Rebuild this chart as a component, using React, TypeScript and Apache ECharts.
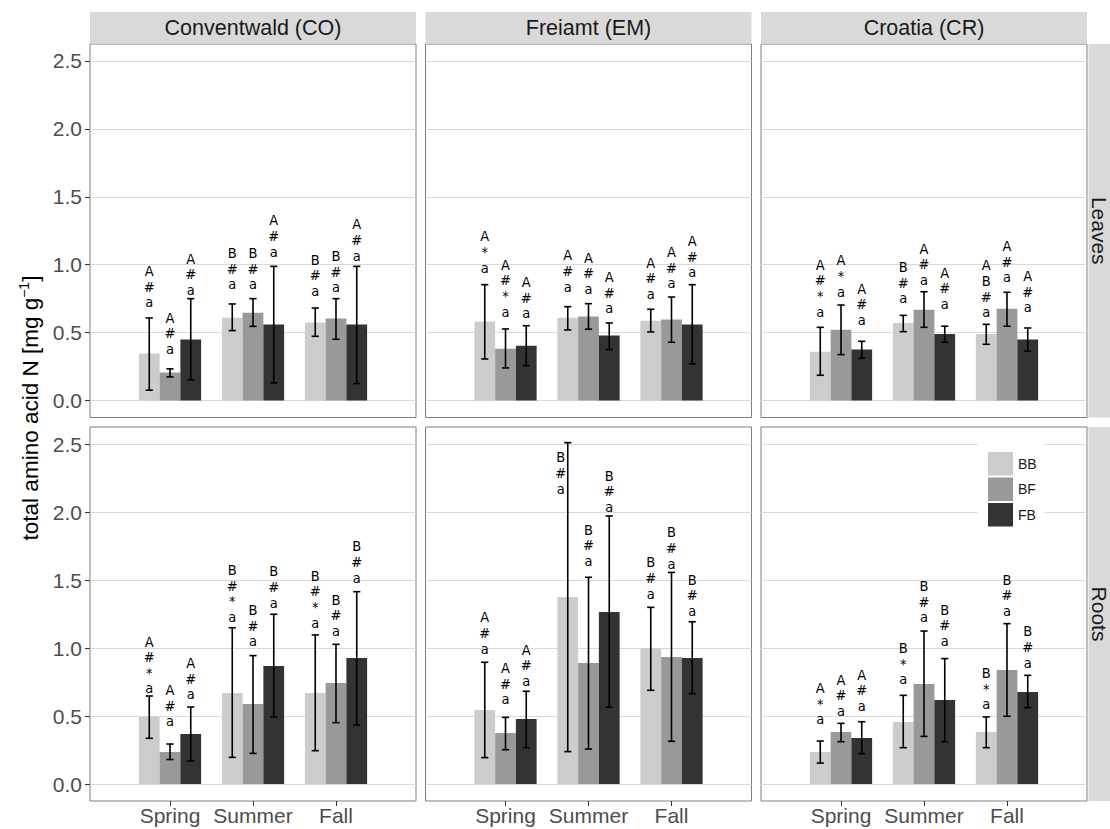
import React, { useEffect, useRef } from 'react';
import * as echarts from 'echarts';

const sites = ['Conventwald (CO)', 'Freiamt (EM)', 'Croatia (CR)'];
const organs = ['Leaves', 'Roots'];
const seasons = ['Spring', 'Summer', 'Fall'];
const treatments = ['BB', 'BF', 'FB'];
const treatmentColors = ['#cccccc', '#999999', '#333333'];
const yTicks = [0, 0.5, 1, 1.5, 2, 2.5];
const xTicks = [0, 1, 2];

// rows: Spring, Summer, Fall ; columns: BB, BF, FB
const leavesCO_mean = [[0.346, 0.206, 0.449], [0.61, 0.647, 0.559], [0.574, 0.603, 0.559]];
const leavesCO_lo = [[0.076, 0.174, 0.152], [0.515, 0.546, 0.13], [0.473, 0.451, 0.125]];
const leavesCO_hi = [[0.608, 0.233, 0.75], [0.711, 0.75, 0.988], [0.681, 0.75, 0.988]];
const leavesCO_labelY = [[0.689, 0.346, 0.779], [0.821, 0.821, 1.061], [0.772, 0.799, 1.032]];
const leavesCO_letters = [['A#a', 'A#a', 'A#a'], ['B#a', 'B#a', 'A#a'], ['B#a', 'B#a', 'A#a']];

const leavesEM_mean = [[0.581, 0.382, 0.404], [0.61, 0.618, 0.478], [0.588, 0.596, 0.559]];
const leavesEM_lo = [[0.306, 0.24, 0.257], [0.52, 0.525, 0.375], [0.505, 0.429, 0.27]];
const leavesEM_hi = [[0.853, 0.527, 0.551], [0.691, 0.713, 0.571], [0.672, 0.762, 0.853]];
const leavesEM_labelY = [[0.943, 0.62, 0.608], [0.804, 0.787, 0.645], [0.75, 0.829, 0.91]];
const leavesEM_letters = [['A*a', 'A#*a', 'A#a'], ['A#a', 'A#a', 'A#a'], ['A#a', 'A#a', 'A#a']];

const leavesCR_mean = [[0.36, 0.522, 0.375], [0.57, 0.669, 0.49], [0.49, 0.676, 0.449]];
const leavesCR_lo = [[0.186, 0.338, 0.311], [0.507, 0.539, 0.429], [0.414, 0.547, 0.363]];
const leavesCR_hi = [[0.539, 0.703, 0.436], [0.627, 0.801, 0.547], [0.561, 0.797, 0.534]];
const leavesCR_labelY = [[0.62, 0.767, 0.559], [0.718, 0.853, 0.676], [0.615, 0.873, 0.652]];
const leavesCR_letters = [['A#*a', 'A*a', 'A#a'], ['B#a', 'A#a', 'A#a'], ['AB#a', 'A#a', 'A#a']];

const rootsCO_mean = [[0.495, 0.235, 0.368], [0.669, 0.588, 0.868], [0.669, 0.743, 0.926]];
const rootsCO_lo = [[0.336, 0.18, 0.169], [0.196, 0.225, 0.493], [0.245, 0.451, 0.434]];
const rootsCO_hi = [[0.647, 0.294, 0.566], [1.149, 0.944, 1.248], [1.096, 1.027, 1.414]];
const rootsCO_labelY = [[0.667, 0.426, 0.623], [1.193, 1.015, 1.299], [1.151, 1.09, 1.483]];
const rootsCO_letters = [['A#*a', 'A#a', 'A#a'], ['B#*a', 'B#a', 'B#a'], ['B#*a', 'B#a', 'B#a']];

const rootsEM_mean = [[0.544, 0.375, 0.478], [1.375, 0.889, 1.265], [0.998, 0.934, 0.926]];
const rootsEM_lo = [[0.194, 0.252, 0.267], [0.238, 0.257, 0.564], [0.689, 0.314, 0.664]];
const rootsEM_hi = [[0.895, 0.49, 0.682], [2.51, 1.52, 1.971], [1.299, 1.556, 1.193]];
const rootsEM_labelY = [[0.961, 0.588, 0.723], [2.137, 1.605, 2.002], [1.365, 1.586, 1.238]];
const rootsEM_letters = [['A#a', 'A#a', 'A#a'], ['B#a', 'B#a', 'B#a'], ['B#a', 'B#a', 'B#a']];

const rootsCR_mean = [[0.235, 0.382, 0.338], [0.456, 0.735, 0.618], [0.382, 0.838, 0.676]];
const rootsCR_lo = [[0.154, 0.311, 0.223], [0.267, 0.35, 0.311], [0.267, 0.498, 0.561]];
const rootsCR_hi = [[0.316, 0.446, 0.458], [0.652, 1.125, 0.922], [0.493, 1.179, 0.799]];
const rootsCR_labelY = [[0.441, 0.502, 0.539], [0.735, 1.189, 1.017], [0.551, 1.238, 0.858]];
const rootsCR_letters = [['A*a', 'A#a', 'A#a'], ['B*a', 'B#a', 'B#a'], ['B*a', 'B#a', 'B#a']];

const panels = [
  { mean: leavesCO_mean, lo: leavesCO_lo, hi: leavesCO_hi, labelY: leavesCO_labelY, letters: leavesCO_letters },
  { mean: leavesEM_mean, lo: leavesEM_lo, hi: leavesEM_hi, labelY: leavesEM_labelY, letters: leavesEM_letters },
  { mean: leavesCR_mean, lo: leavesCR_lo, hi: leavesCR_hi, labelY: leavesCR_labelY, letters: leavesCR_letters },
  { mean: rootsCO_mean, lo: rootsCO_lo, hi: rootsCO_hi, labelY: rootsCO_labelY, letters: rootsCO_letters },
  { mean: rootsEM_mean, lo: rootsEM_lo, hi: rootsEM_hi, labelY: rootsEM_labelY, letters: rootsEM_letters },
  { mean: rootsCR_mean, lo: rootsCR_lo, hi: rootsCR_hi, labelY: rootsCR_labelY, letters: rootsCR_letters },
];

const SANS = "'Liberation Sans', Arial, Helvetica, sans-serif";
const LABEL_FONT = "'DejaVu Sans Condensed', 'Liberation Sans Narrow', 'DejaVu Sans', sans-serif";
const panelLeft = [90, 425.5, 761];
const panelWidth = 326;
const panelTop = [44, 427];
const panelHeight = [373.5, 374];
const X_MIN = -0.964;
const X_MAX = 2.964;
const Y_MIN = -0.125;
const Y_MAX = 2.625;

function buildOption() {
  const grid: any[] = [];
  const xAxis: any[] = [];
  const yAxis: any[] = [];
  const series: any[] = [];
  const graphic: any[] = [];

  panels.forEach((p, g) => {
    const row = Math.floor(g / 3);
    const col = g % 3;
    grid.push({
      left: panelLeft[col],
      top: panelTop[row],
      width: panelWidth,
      height: panelHeight[row],
      show: true,
      backgroundColor: '#ffffff',
      borderColor: '#7f7f7f',
      borderWidth: 1,
    });
    xAxis.push({
      type: 'value',
      gridIndex: g,
      position: 'bottom',
      min: X_MIN,
      max: X_MAX,
      axisLine: { show: false, onZero: false },
      splitLine: { show: false },
      axisTick: { show: row === 1, length: 5, customValues: xTicks, lineStyle: { color: '#333333', width: 1 } },
      axisLabel: {
        show: row === 1,
        customValues: xTicks,
        margin: 4,
        fontSize: 21,
        color: '#4d4d4d',
        fontFamily: SANS,
        formatter: (v: number) => seasons[Math.round(v)] ?? '',
      },
    });
    yAxis.push({
      type: 'value',
      gridIndex: g,
      position: 'left',
      min: Y_MIN,
      max: Y_MAX,
      axisLine: { show: false, onZero: false },
      axisTick: { show: col === 0, length: 5, customValues: yTicks, lineStyle: { color: '#333333', width: 1 } },
      axisLabel: {
        show: col === 0,
        customValues: yTicks,
        margin: 8,
        fontSize: 21,
        color: '#4d4d4d',
        fontFamily: SANS,
        formatter: (v: number) =>
          Math.abs(v * 2 - Math.round(v * 2)) < 1e-6 && v >= 0 && v <= 2.5 ? v.toFixed(1) : '',
      },
      splitLine: { show: true, lineStyle: { color: '#d9d9d9', width: 1 } },
    });

    treatments.forEach((t, j) => {
      series.push({
        type: 'bar',
        name: t,
        xAxisIndex: g,
        yAxisIndex: g,
        barWidth: '25%',
        barGap: '0%',
        silent: true,
        itemStyle: { color: treatmentColors[j] },
        data: seasons.map((_, s) => [s, p.mean[s][j]]),
      });
    });

    const items: any[] = [];
    seasons.forEach((_, s) => {
      treatments.forEach((__, j) => {
        items.push({ s, j, x: s + (j - 1) * 0.25 });
      });
    });

    series.push({
      type: 'custom',
      xAxisIndex: g,
      yAxisIndex: g,
      silent: true,
      z: 5,
      data: items.map((it) => [it.x, p.hi[it.s][it.j]]),
      renderItem: (params: any, api: any) => {
        const it = items[params.dataIndex];
        const hi = p.hi[it.s][it.j];
        const lo = p.lo[it.s][it.j];
        const ly = p.labelY[it.s][it.j];
        const top = api.coord([it.x, hi]);
        const bot = api.coord([it.x, lo]);
        const lab = api.coord([it.x, ly]);
        const cx = top[0];
        const hw = 3.6;
        const st = { stroke: '#000000', lineWidth: 1.6 };
        const dx = ly < hi ? -7 : 0;
        return {
          type: 'group',
          children: [
            { type: 'line', shape: { x1: cx, y1: top[1], x2: cx, y2: bot[1] }, style: st },
            { type: 'line', shape: { x1: cx - hw, y1: top[1], x2: cx + hw, y2: top[1] }, style: st },
            { type: 'line', shape: { x1: cx - hw, y1: bot[1], x2: cx + hw, y2: bot[1] }, style: st },
            {
              type: 'text',
              x: cx + dx,
              y: lab[1] + 3,
              style: {
                text: p.letters[it.s][it.j].split('').join('\n'),
                align: 'center',
                verticalAlign: 'bottom',
                fontSize: 14.5,
                lineHeight: 15.6,
                fontFamily: LABEL_FONT,
                fill: '#000000',
              },
            },
          ],
        };
      },
    });
  });

  // top strips (sites)
  sites.forEach((name, col) => {
    graphic.push({
      type: 'rect',
      shape: { x: panelLeft[col], y: 12, width: panelWidth, height: 31.5 },
      style: { fill: '#d9d9d9' },
      silent: true,
    });
    graphic.push({
      type: 'text',
      x: panelLeft[col] + panelWidth / 2,
      y: 28,
      style: { text: name, align: 'center', verticalAlign: 'middle', fontSize: 21.5, fill: '#1a1a1a', fontFamily: SANS },
      silent: true,
    });
  });
  // right strips (organs)
  organs.forEach((name, row) => {
    graphic.push({
      type: 'rect',
      shape: { x: 1088.5, y: panelTop[row], width: 32, height: panelHeight[row] },
      style: { fill: '#d9d9d9' },
      silent: true,
    });
    graphic.push({
      type: 'text',
      x: 1099,
      y: panelTop[row] + panelHeight[row] / 2,
      rotation: -Math.PI / 2,
      style: { text: name, align: 'center', verticalAlign: 'middle', fontSize: 21, fill: '#1a1a1a', fontFamily: SANS },
      silent: true,
    });
  });
  // y-axis title
  graphic.push({
    type: 'text',
    x: 30,
    y: 408,
    rotation: Math.PI / 2,
    style: {
      text: '{n|total amino acid N [mg g}{s|−1}{n|]}',
      align: 'center',
      verticalAlign: 'middle',
      rich: {
        n: { fontSize: 22.5, lineHeight: 26, fill: '#000000', fontFamily: SANS },
        s: { fontSize: 14, lineHeight: 14, verticalAlign: 'top', fill: '#000000', fontFamily: SANS },
      },
    },
    silent: true,
  });

  return {
    animation: false,
    backgroundColor: '#ffffff',
    grid,
    xAxis,
    yAxis,
    series,
    graphic,
    legend: {
      data: treatments,
      orient: 'vertical',
      left: 978,
      top: 441,
      padding: [11, 8, 10, 10],
      itemWidth: 25,
      itemHeight: 23.5,
      itemGap: 2,
      icon: 'rect',
      backgroundColor: '#ffffff',
      selectedMode: false,
      textStyle: { fontSize: 14, color: '#1a1a1a', fontFamily: SANS },
    },
  };
}

export default function App() {
  const ref = useRef<HTMLDivElement>(null);
  useEffect(() => {
    if (!ref.current) return;
    const chart = echarts.init(ref.current, undefined, { renderer: 'svg' });
    chart.setOption(buildOption() as any);
    return () => chart.dispose();
  }, []);
  return (
    <div
      ref={ref}
      style={{ position: 'absolute', left: 0, top: 0, width: 1110, height: 829, background: '#ffffff' }}
    />
  );
}
